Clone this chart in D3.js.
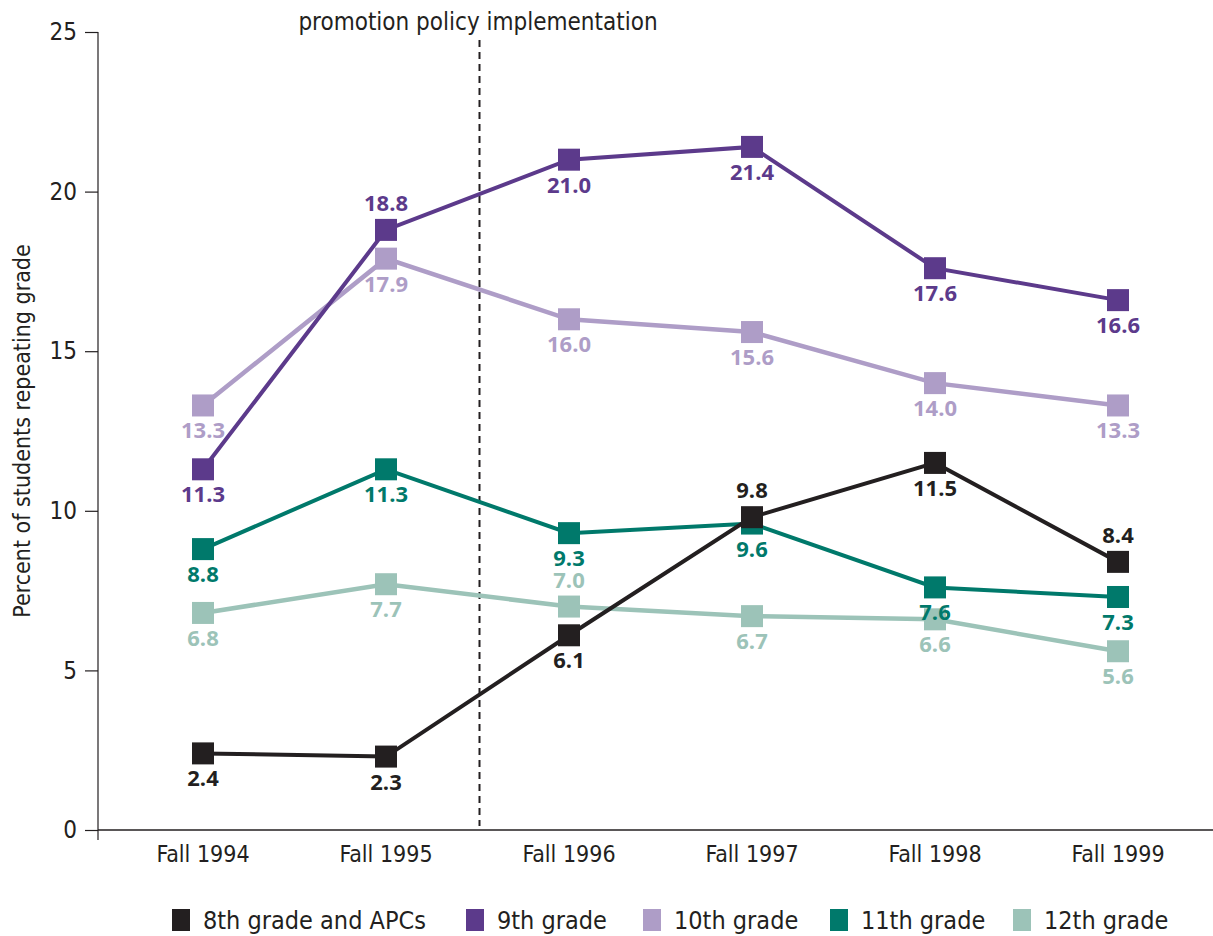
<!DOCTYPE html>
<html>
<head>
<meta charset="utf-8">
<script src="https://cdn.jsdelivr.net/npm/d3@7"></script>
<style>
  body { margin: 0; background: #fff; }
  .narrow { font-family: "Liberation Sans Narrow", "DejaVu Sans Condensed", sans-serif; font-stretch: condensed; }
</style>
</head>
<body>
<div id="chart"></div>
<script>
// Datos
const years = ["Fall 1994", "Fall 1995", "Fall 1996", "Fall 1997", "Fall 1998", "Fall 1999"];
const grade8 = [2.4, 2.3, 6.1, 9.8, 11.5, 8.4];
const grade9 = [11.3, 18.8, 21.0, 21.4, 17.6, 16.6];
const grade10 = [13.3, 17.9, 16.0, 15.6, 14.0, 13.3];
const grade11 = [8.8, 11.3, 9.3, 9.6, 7.6, 7.3];
const grade12 = [6.8, 7.7, 7.0, 6.7, 6.6, 5.6];
const yTicks = [0, 5, 10, 15, 20, 25];

const seriesNames = ["8th grade and APCs", "9th grade", "10th grade", "11th grade", "12th grade"];
const colors = ["#231f20", "#5c3a8b", "#ae9dc7", "#00796b", "#9cc3b8"];
// posición de la etiqueta: 1 = debajo, -1 = encima
const labelPos = [
    [1, 1, 1, -1, 1, -1],
    [1, -1, 1, 1, 1, 1],
    [1, 1, 1, 1, 1, 1],
    [1, 1, 1, 1, 1, 1],
    [1, 1, -1, 1, 1, 1]
];
const series = [grade8, grade9, grade10, grade11, grade12];

const W = 1213, H = 936;
const svg = d3.select("#chart").append("svg")
    .attr("width", W)
    .attr("height", H);

// Escalas
const x = d3.scalePoint().domain(years).range([203, 1118]);
const y = d3.scaleLinear().domain([0, 25]).range([830, 32]);

// Eje Y
const yAxis = svg.append("g")
    .attr("transform", "translate(98,0)")
    .call(d3.axisLeft(y).tickValues(yTicks).tickSize(13).tickPadding(8));
yAxis.select(".domain").remove();
yAxis.selectAll(".tick line").attr("stroke", "#231f20").attr("stroke-width", 1.2);
yAxis.selectAll(".tick text")
    .attr("class", "narrow")
    .attr("fill", "#231f20")
    .style("font-size", "24px");
svg.append("line")
    .attr("x1", 98).attr("x2", 98)
    .attr("y1", y(25)).attr("y2", 840)
    .attr("stroke", "#231f20").attr("stroke-width", 1.2);

// Eje X
svg.append("line")
    .attr("x1", 98).attr("x2", W)
    .attr("y1", y(0)).attr("y2", y(0))
    .attr("stroke", "#231f20").attr("stroke-width", 1.6);
svg.selectAll(".xlab")
    .data(years)
    .enter().append("text")
    .attr("class", "narrow")
    .attr("x", d => x(d))
    .attr("y", 862)
    .attr("text-anchor", "middle")
    .style("font-size", "23px")
    .attr("fill", "#231f20")
    .text(d => d);

// Título del eje Y
svg.append("text")
    .attr("class", "narrow")
    .attr("transform", "translate(30,431) rotate(-90)")
    .attr("text-anchor", "middle")
    .style("font-size", "23px")
    .attr("fill", "#231f20")
    .text("Percent of students repeating grade");

// Línea de la política
const xPolicy = (x(years[1]) + x(years[2])) / 2 + 2;
svg.append("line")
    .attr("x1", xPolicy).attr("x2", xPolicy)
    .attr("y1", 40).attr("y2", 826)
    .attr("stroke", "#231f20")
    .attr("stroke-width", 2)
    .attr("stroke-dasharray", "7,5");
svg.append("text")
    .attr("class", "narrow")
    .attr("x", 478)
    .attr("y", 30)
    .attr("text-anchor", "middle")
    .style("font-size", "24px")
    .attr("fill", "#231f20")
    .text("promotion policy implementation");

// Líneas (dibujar de atrás hacia adelante)
const line = d3.line()
    .x((d, i) => x(years[i]))
    .y(d => y(d));

const order = [4, 2, 3, 1, 0];
order.forEach(s => {
    const g = svg.append("g");
    g.append("path")
        .datum(series[s])
        .attr("fill", "none")
        .attr("stroke", colors[s])
        .attr("stroke-width", s === 2 || s === 4 ? 4.5 : 4)
        .attr("d", line);
    g.selectAll("rect")
        .data(series[s])
        .enter().append("rect")
        .attr("x", (d, i) => x(years[i]) - 11)
        .attr("y", d => y(d) - 11)
        .attr("width", 22)
        .attr("height", 22)
        .attr("fill", colors[s]);
});

// Etiquetas de valores
series.forEach((vals, s) => {
    svg.selectAll(".lab" + s)
        .data(vals)
        .enter().append("text")
        .attr("x", (d, i) => x(years[i]))
        .attr("y", (d, i) => y(d) + (labelPos[s][i] > 0 ? 33 : -19))
        .attr("text-anchor", "middle")
        .style("font-family", "'Open Sans', sans-serif")
        .style("font-weight", 700)
        .style("font-size", "22px")
        .attr("fill", colors[s])
        .text(d => d.toFixed(1));
});

// Leyenda
const legendX = [172, 466, 643, 830, 1013];
const legend = svg.selectAll(".legend")
    .data(seriesNames)
    .enter().append("g")
    .attr("transform", (d, i) => `translate(${legendX[i]},909)`);
legend.append("rect")
    .attr("width", 18)
    .attr("height", 22)
    .attr("fill", (d, i) => colors[i]);
legend.append("text")
    .attr("class", "narrow")
    .attr("x", 31)
    .attr("y", 20)
    .style("font-size", "25px")
    .attr("fill", "#231f20")
    .text(d => d);
</script>
</body>
</html>
